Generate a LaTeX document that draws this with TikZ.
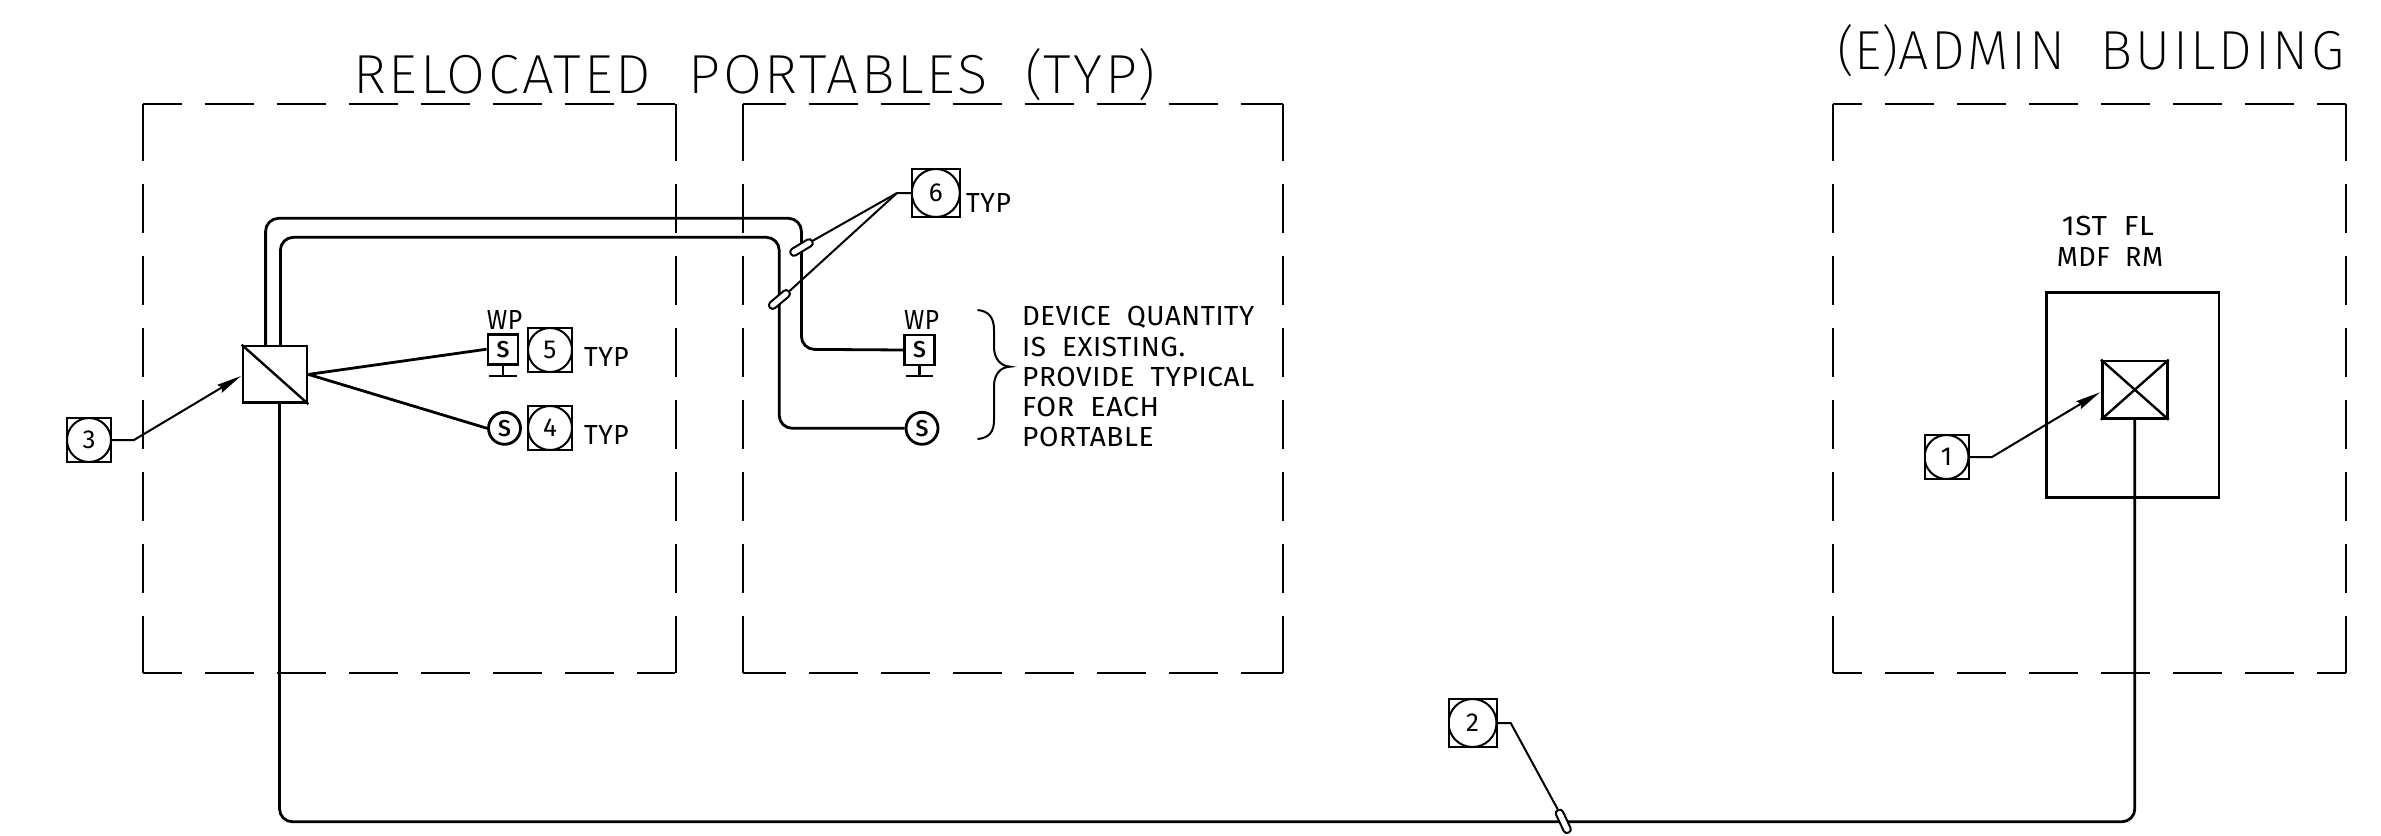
\documentclass[tikz,border=0pt]{standalone}
\usepackage{fontspec}
\usepackage{graphicx}
\setmainfont{Fira Sans}
\newfontfamily\thinf[LetterSpace=5]{Fira Sans ExtraLight}
\newfontfamily\hairf{Fira Sans ExtraLight}
\newfontfamily\lightf[LetterSpace=2]{Fira Sans}
\newfontfamily\medf{Fira Sans Medium}
\usetikzlibrary{arrows.meta}
\newcommand\fitw[2]{\resizebox{#1pt}{\height}{#2}}
\newcommand\tparen[1]{\resizebox{!}{45pt}{\hairf #1}}
\tikzset{
  thinl/.style={line width=2pt},
  heavy/.style={line width=2.8pt},
  conduit/.style={heavy,rounded corners=13pt},
  sidedash/.style={thinl,dash pattern=on #1pt off 23pt on 49pt off 23pt on 49pt off 23pt on 49pt off 23pt on 49pt off 23pt on 49pt off 23pt on 49pt off 23pt on #1pt off 200pt},
  txt/.style={anchor=base west,inner sep=0pt,font=\lightf\fontsize{27.6}{27.6}\selectfont},
  title/.style={anchor=base west,inner sep=0pt,font=\thinf\fontsize{55}{55}\selectfont},
  tagbox/.style={draw,thinl,rectangle,inner sep=0pt,minimum size=#1pt,font=\fontsize{26}{26}\selectfont,
    path picture={\draw[thinl] (path picture bounding box.center) circle (#1pt/2);}},
  wpbox/.style={draw,heavy,rectangle,inner sep=0pt,minimum width=30pt,minimum height=30pt,font=\medf\fontsize{23}{23}\selectfont},
  scirc/.style={draw,heavy,circle,inner sep=0pt,minimum size=32pt,font=\medf\fontsize{23}{23}\selectfont},
  capsule/.style={draw,thinl,fill=white,rectangle,inner sep=0pt,minimum width=25pt,minimum height=7.5pt,rounded corners=3.6pt},
  leader/.style={thinl},
  pointer/.style={thinl,-{Stealth[length=25pt,width=9pt,inset=3pt]}}
}
\newcommand\dbox[5]{%
  \draw[sidedash=#5] (#1,#2) -- (#3,#2);
  \draw[sidedash=#5] (#1,#4) -- (#3,#4);
  \draw[sidedash=57] (#1,#2) -- (#1,#4);
  \draw[sidedash=57] (#3,#2) -- (#3,#4);}
\begin{document}
\begin{tikzpicture}[x=1pt,y=-1pt]
\useasboundingbox (0,0) rectangle (2381,835);
\fill[white] (0,0) rectangle (2381,835);
% dashed outlines
\dbox{143}{103.5}{676}{673}{38.6}
\dbox{743}{103.5}{1282.5}{673}{42.6}
\dbox{1833.3}{103.5}{2345.5}{673}{28.6}
% titles
\node[title] (ttl1) at (353,93) {\fitw{802}{RELOCATED\ \ PORTABLES\ \ \tparen{(}TYP\tparen{)}}};
\node[title] (ttl2) at (1837,69) {\fitw{507}{\tparen{(}E\tparen{)}ADMIN\ \ BUILDING}};
% equipment
\node[draw,heavy,rectangle,inner sep=0pt,minimum width=64pt,minimum height=56.7pt] (panel) at (275,374.4) {};
\draw[line width=2.4pt] (panel.north west) -- (panel.south east);
\node[draw,heavy,rectangle,inner sep=0pt,minimum width=172.6pt,minimum height=204.6pt] (room) at (2132.7,395) {};
\node[draw,heavy,rectangle,inner sep=0pt,minimum width=65pt,minimum height=57.3pt] (xbox) at (2134.8,389.7) {};
\draw[line width=2.4pt] (xbox.north west) -- (xbox.south east);
\draw[line width=2.4pt] (xbox.south west) -- (xbox.north east);
% devices, left portable
\node[wpbox] (wpa) at (503,349.2) {S};
\coordinate (wpabase) at (503,376);
\draw[heavy] (wpa.south) -- (wpabase);
\draw[heavy] (489,376) -- (517,376);
\node[scirc] (sa) at (504.5,428.3) {S};
% devices, right portable
\node[wpbox] (wpb) at (919.5,350) {S};
\coordinate (wpbbase) at (919.5,376);
\draw[heavy] (wpb.south) -- (wpbbase);
\draw[heavy] (906,376) -- (933.4,376);
\node[scirc] (sb) at (922,428.3) {S};
% circuits
\draw[heavy] (panel.east) -- (wpa.west);
\draw[heavy] (panel.east) -- (sa.west);
\coordinate (pa) at (265.6,346);
\coordinate (pb) at (280.4,346);
\coordinate (pc) at (279.5,402.7);
\draw[conduit] (pa) -- (265.6,218.3) -- (801.4,218.3) -- (801.4,349.3) -- (wpb.west);
\draw[conduit] (pb) -- (280.4,237.3) -- (779.2,237.3) -- (779.2,428.3) -- (sb.west);
\draw[conduit] (pc) -- (279.5,821.8) -- (2134.8,821.8) -- (xbox.south);
% tags
\node[tagbox=44] (t3) at (89,440) {3};
\node[tagbox=44] (t5) at (550,350) {5};
\node[tagbox=44] (t4) at (550,428) {4};
\node[tagbox=48] (t6) at (935.8,193) {6};
\node[tagbox=44] (t1) at (1946.5,457) {1};
\node[tagbox=48] (t2) at (1472.5,723) {2};
% capsule marks
\node[capsule,rotate=31] (ca) at (801.5,247.5) {};
\node[capsule,rotate=40] (cb) at (779.4,299.5) {};
\node[capsule,rotate=-65] (cc) at (1563.3,821.3) {};
% leaders
\draw[pointer] (t3.east) -- (134,440) -- (241,376);
\draw[pointer] (t1.east) -- (1992,457) -- (2100,392.3);
\draw[leader] (t6.west) -- (897,193) -- (ca.east);
\draw[leader] (897,193) -- (cb.east);
\draw[leader] (t2.east) -- (1510.7,723) -- (cc.west);
% brace
\draw[thinl] (977.5,310) .. controls (989,311) and (994,318) .. (994,330) -- (994,347)
  .. controls (994,358) and (1000,366) .. (1010,366.7)
  .. controls (1000,367) and (994,375) .. (994,386) -- (994,420)
  .. controls (994,432) and (989,438) .. (977.5,439);
% labels
\node[txt] (wa) at (486.6,329) {\fitw{35.4}{WP}};
\node[txt] (wb) at (904,329) {\fitw{35}{WP}};
\node[txt] (ty5) at (584,366.7) {\fitw{44.6}{TYP}};
\node[txt] (ty4) at (584,444.3) {\fitw{44.6}{TYP}};
\node[txt] (ty6) at (966,212.3) {\fitw{44.8}{TYP}};
\node[txt] (n1) at (1022,325.7) {\fitw{232}{DEVICE\ \ QUANTITY}};
\node[txt] (n2) at (1022,356.7) {\fitw{163}{IS\ \ EXISTING.}};
\node[txt] (n3) at (1022,386) {\fitw{232}{PROVIDE\ \ TYPICAL}};
\node[txt] (n4) at (1022,416) {\fitw{137}{FOR\ \ EACH}};
\node[txt] (n5) at (1022,446) {\fitw{131.5}{PORTABLE}};
\node[txt] (m1) at (2061.6,235) {\fitw{92.2}{1ST\ \ FL}};
\node[txt] (m2) at (2056.6,266) {\fitw{106.4}{MDF\ \ RM}};
\end{tikzpicture}
\end{document}
